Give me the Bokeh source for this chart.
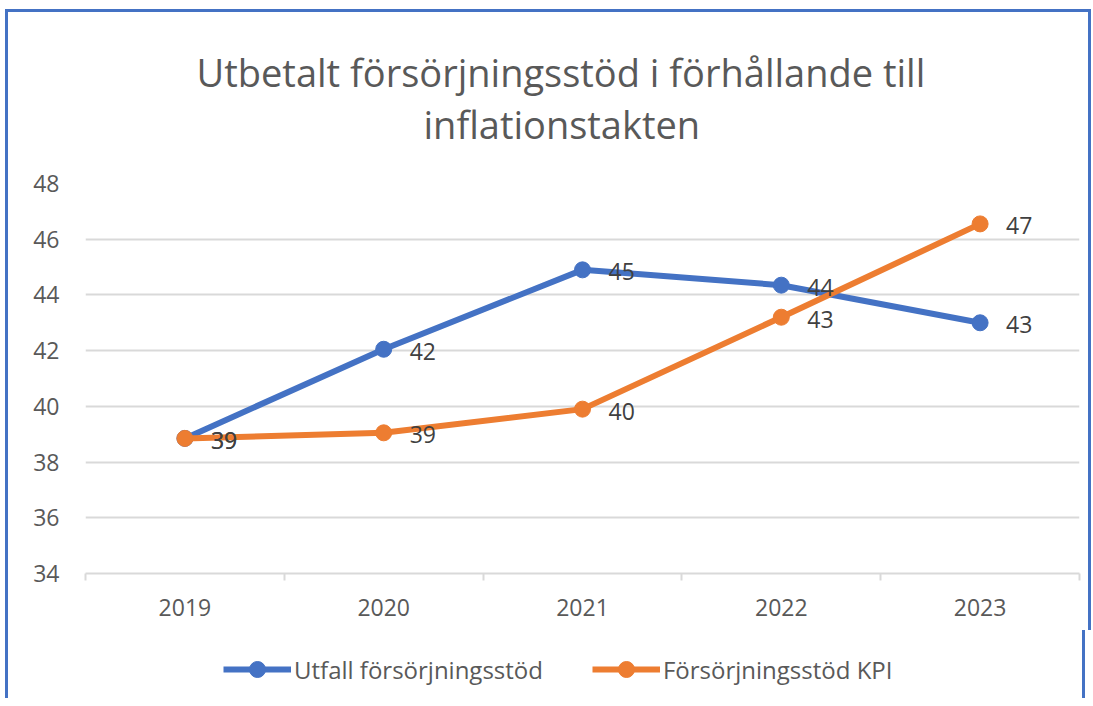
from bokeh.plotting import figure
from bokeh.layouts import column
from bokeh.models import (Range1d, FixedTicker, Title, Legend, LegendItem, ColumnDataSource, Spacer)
from bokeh.core.properties import value
from bokeh.embed import file_html
from bokeh.resources import INLINE

years = ["2019", "2020", "2021", "2022", "2023"]
utfall = [38.85, 42.05, 44.9, 44.35, 43.0]
kpi = [38.85, 39.05, 39.9, 43.2, 46.55]
y_ticks = [34, 36, 38, 40, 42, 44, 46, 48]
title_line1 = "Utbetalt försörjningsstöd i förhållande till"
title_line2 = "inflationstakten"
name_utfall = "Utfall försörjningsstöd"
name_kpi = "Försörjningsstöd KPI"

FONT = "Open Sans"
GRAY = "#595959"
BLUE = "#4472C4"
ORANGE = "#ED7D31"

xs = list(range(len(years)))

p = figure(output_backend="svg", toolbar_location=None,
           frame_width=988, frame_height=387,
           min_border_left=77, min_border_right=15,
           min_border_top=171, min_border_bottom=60,
           x_range=Range1d(-0.5, len(years) - 0.5),
           y_range=Range1d(34, 48))
p.title.visible = False
p.outline_line_color = None
p.background_fill_color = "white"
p.border_fill_color = "white"
p.margin = (0, 0, 0, 5)
p.styles = {"border-top": f"3px solid {BLUE}",
            "border-left": f"3px solid {BLUE}",
            "border-right": f"3px solid {BLUE}"}

# axes
xa = p.xaxis[0]
xa.ticker = FixedTicker(ticks=xs, minor_ticks=[x - 0.5 for x in xs] + [xs[-1] + 0.5])
xa.major_label_overrides = {x: y for x, y in zip(xs, years)}
xa.major_tick_line_color = None
xa.major_tick_in = 0
xa.major_tick_out = 0
xa.minor_tick_line_color = "#D9D9D9"
xa.minor_tick_line_width = 2
xa.minor_tick_in = 0
xa.minor_tick_out = 7
xa.axis_line_color = "#D9D9D9"
xa.axis_line_width = 2
xa.major_label_standoff = 18
xa.major_label_text_font = FONT
xa.major_label_text_font_size = "23px"
xa.major_label_text_color = GRAY

ya = p.yaxis[0]
ya.ticker = FixedTicker(ticks=y_ticks)
ya.axis_line_color = None
ya.major_tick_line_color = None
ya.minor_tick_line_color = None
ya.major_tick_out = 0
ya.major_tick_in = 0
ya.major_label_standoff = 26
ya.major_label_text_font = FONT
ya.major_label_text_font_size = "23px"
ya.major_label_text_color = GRAY

p.xgrid.visible = False
p.ygrid.grid_line_color = "#D9D9D9"
p.ygrid.grid_line_width = 2

src_u = ColumnDataSource(dict(x=xs, y=utfall, lab=[str(round(v)) for v in utfall]))
src_k = ColumnDataSource(dict(x=xs, y=kpi, lab=[str(round(v)) for v in kpi]))

p.line("x", "y", source=src_u, line_color=BLUE, line_width=6)
p.scatter("x", "y", source=src_u, size=16, fill_color=BLUE, line_color=BLUE)
p.line("x", "y", source=src_k, line_color=ORANGE, line_width=6)
p.scatter("x", "y", source=src_k, size=16, fill_color=ORANGE, line_color=ORANGE)

for src in (src_u, src_k):
    p.text("x", "y", text="lab", source=src, x_offset=26, y_offset=2,
           text_align="left", text_baseline="middle",
           text_font=value(FONT), text_font_size="23px", text_color="#404040")

# titles (stacked outward from the frame)
spacer_t = Title(text=" ", text_font_size="1px", standoff=31)
p.add_layout(spacer_t, "above")
t2 = Title(text=title_line2, align="left", offset=338, text_font=FONT,
           text_font_size="38px", text_color=GRAY, text_font_style="normal",
           standoff=0)
p.add_layout(t2, "above")
t1 = Title(text=title_line1, align="left", offset=111, text_font=FONT,
           text_font_size="38px", text_color=GRAY, text_font_style="normal",
           standoff=-4)
p.add_layout(t1, "above")

# legend strip below the chart (series drawn out of its view; only legend shows)
lp = figure(output_backend="svg", toolbar_location=None,
            width=1080, height=68, min_border=0,
            x_range=Range1d(0, 1), y_range=Range1d(0, 1))
lp.title.visible = False
lp.axis.visible = False
lp.grid.visible = False
lp.outline_line_color = None
lp.margin = (0, 0, 0, 5)
lp.styles = {"border-left": f"3px solid {BLUE}",
             "border-right": f"3px solid {BLUE}"}
lu = lp.line("x", "y", source=src_u, line_color=BLUE, line_width=6)
cu = lp.scatter("x", "y", source=src_u, size=16, fill_color=BLUE, line_color=BLUE)
lk = lp.line("x", "y", source=src_k, line_color=ORANGE, line_width=6)
ck = lp.scatter("x", "y", source=src_k, size=16, fill_color=ORANGE, line_color=ORANGE)
legend = Legend(items=[LegendItem(label=name_utfall, renderers=[lu, cu]),
                       LegendItem(label=name_kpi, renderers=[lk, ck])],
                orientation="horizontal", location=(138, 9),
                glyph_width=68, glyph_height=40, label_standoff=3, spacing=49,
                padding=0, margin=0, border_line_color=None,
                background_fill_alpha=0,
                label_text_font=FONT, label_text_font_size="24px",
                label_text_color=GRAY)
lp.add_layout(legend, "center")

layout = column(Spacer(height=9), p, lp)
open("out.html", "w").write(file_html(layout, INLINE))
